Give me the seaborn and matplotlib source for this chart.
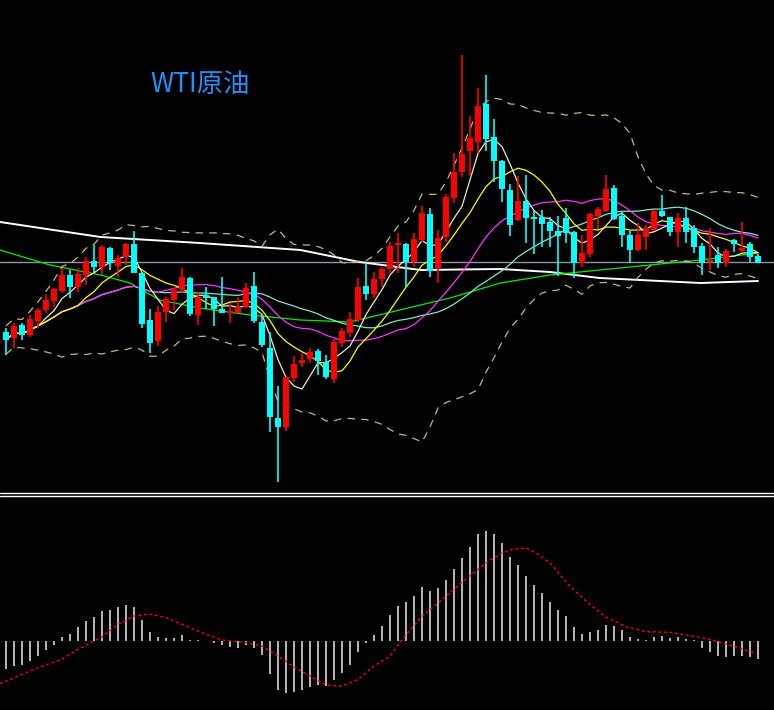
import numpy as np
import pandas as pd
import matplotlib
matplotlib.use("Agg")
import matplotlib.pyplot as plt
import seaborn as sns

# daily OHLC (price units)
opens = [26.8, 26.2, 27.5, 26.5, 27.9, 29.0, 29.9, 30.9, 32.5, 31.3, 32.5, 33.9, 33.3, 35.2, 33.4, 34.3,
         35.6, 32.7, 28.0, 25.9, 28.8, 30.0, 31.0, 32.2, 28.5, 30.5, 30.3, 29.1, 28.7, 28.7, 29.3, 31.4,
         27.8, 25.2, 18.2, 17.3, 22.2, 23.7, 24.1, 24.9, 23.8, 22.1, 25.7, 26.7, 28.0, 31.4, 30.6, 32.1,
         33.1, 35.5, 35.6, 33.8, 36.0, 38.6, 33.2, 36.3, 40.2, 42.8, 44.9, 45.8, 49.6, 46.3, 43.9, 41.0,
         38.0, 39.9, 38.2, 38.3, 37.8, 36.9, 38.2, 36.8, 33.7, 34.6, 38.4, 38.9, 41.2, 38.4, 36.5, 35.0,
         36.3, 37.0, 38.9, 38.3, 36.8, 38.2, 37.2, 35.4, 33.8, 34.5, 33.7, 36.0, 34.9, 35.6, 34.4]
closes = [26.0, 27.4, 26.5, 28.1, 29.0, 30.0, 31.1, 32.5, 31.3, 32.6, 33.9, 33.3, 35.3, 33.7, 34.2, 35.6,
          32.7, 27.6, 25.7, 28.8, 30.1, 31.0, 32.3, 28.6, 30.3, 30.2, 29.1, 28.7, 28.9, 29.3, 31.2, 27.9,
          25.5, 18.3, 17.3, 22.3, 23.6, 24.0, 24.8, 23.9, 22.3, 25.8, 26.9, 28.1, 31.3, 30.6, 32.1, 33.1,
          35.4, 35.7, 33.8, 36.1, 38.7, 32.9, 36.2, 40.3, 42.8, 44.6, 46.2, 49.4, 46.1, 43.9, 41.1, 37.5,
          39.9, 38.2, 38.1, 37.6, 36.9, 36.4, 36.7, 33.7, 34.7, 38.6, 39.1, 41.1, 38.1, 36.5, 35.0, 36.5,
          37.2, 38.9, 38.4, 36.8, 38.2, 36.8, 35.3, 33.7, 34.0, 33.7, 34.9, 35.6, 35.2, 34.3, 33.7]
highs = [27.2, 27.7, 27.7, 28.5, 29.2, 30.6, 31.2, 33.2, 33.0, 33.2, 34.3, 35.5, 35.5, 35.3, 34.5, 35.7,
         36.9, 32.8, 29.1, 29.4, 30.3, 31.2, 33.2, 32.3, 30.8, 31.3, 30.3, 32.3, 29.7, 30.3, 31.7, 32.8,
         28.5, 26.8, 21.4, 22.3, 24.4, 24.7, 25.2, 25.1, 24.5, 26.1, 27.2, 28.8, 32.2, 33.7, 32.8, 33.3,
         35.8, 36.7, 35.7, 36.7, 39.4, 39.2, 37.0, 40.6, 44.7, 54.5, 48.4, 51.2, 52.5, 48.1, 44.0, 41.6,
         42.4, 42.5, 39.0, 39.0, 38.3, 38.4, 39.2, 36.9, 36.5, 38.7, 39.3, 42.5, 41.5, 38.8, 36.9, 37.7,
         37.5, 39.0, 40.5, 38.3, 38.7, 39.3, 37.5, 35.7, 37.2, 35.3, 35.1, 36.1, 37.8, 35.8, 34.6]
lows = [24.5, 25.2, 26.0, 26.3, 27.2, 28.7, 29.3, 30.7, 30.2, 30.8, 31.5, 32.8, 32.5, 33.0, 32.3, 33.5,
        32.7, 27.2, 24.7, 25.4, 27.8, 29.0, 30.8, 28.4, 27.5, 29.1, 27.4, 28.7, 27.7, 28.7, 29.2, 27.7,
        25.3, 16.8, 11.8, 16.9, 21.8, 23.3, 23.7, 22.5, 22.1, 21.7, 25.3, 26.3, 27.8, 30.0, 30.2, 31.3,
        32.6, 32.7, 31.3, 33.3, 35.7, 32.3, 31.7, 35.8, 39.7, 42.3, 42.4, 44.7, 44.9, 41.8, 39.8, 36.4,
        37.9, 35.7, 34.6, 35.3, 35.3, 32.4, 35.7, 32.2, 33.3, 34.3, 37.1, 38.8, 38.0, 35.3, 33.7, 34.9,
        35.0, 36.9, 38.3, 36.4, 35.3, 35.7, 34.7, 32.5, 33.0, 33.2, 33.3, 34.8, 34.8, 33.8, 33.7]

# long moving averages, sampled by candle index
ma60_idx = [-0.75, 5.5, 11.8, 15.5, 19.2, 24.2, 30.5, 36.8, 43, 49.2, 55.5, 61.8, 68, 74.2, 80.5, 86.8, 94]
ma60_val = [35.0, 33.5, 32.5, 31.7, 30.0, 29.2, 28.5, 28.0, 27.8, 29.0, 30.2, 31.7, 32.5, 33.0, 33.5, 34.0, 34.7]
ma120_idx = [-0.75, 11.8, 24.2, 36.8, 44.2, 51.8, 61.8, 68, 74.2, 86.8, 94]
ma120_val = [37.8, 36.3, 35.7, 35.0, 33.8, 33.0, 33.1, 32.8, 32.2, 31.7, 31.9]
last_price = 33.8

# MACD histogram and signal line
macd_hist = [-83, -76, -73, -61, -46, -28, -11, 11, 22, 41, 59, 71, 89, 94, 101, 109,
             101, 64, 26, 11, 8, 8, 17, 2, 2, 0, -6, -13, -19, -22, -13, -22,
             -43, -100, -148, -156, -154, -148, -139, -133, -136, -118, -97, -73, -34, -7, 19, 46,
             79, 106, 118, 136, 163, 151, 160, 184, 217, 250, 283, 322, 331, 322, 295, 253,
             229, 196, 169, 145, 118, 94, 76, 43, 22, 28, 34, 49, 46, 34, 13, 7,
             4, 13, 16, 10, 13, 7, 2, -22, -34, -46, -49, -46, -46, -49, -55]
signal_idx = [-0.75, 2, 4, 7, 9, 12, 14, 16, 18, 20, 22, 25, 27, 30, 32, 34, 36, 38, 40, 42, 44, 46, 48,
              49.5, 52, 55, 57, 60, 62, 63.4, 65, 66.3, 68, 70.5, 73, 75, 77.6, 80, 83, 86, 88.4, 91, 93.8]
signal_val = [-128, -100, -80, -55, -25, 12, 50, 75, 81, 70, 50, 20, 3, -5, -15, -45, -78, -105, -132, -136,
              -115, -75, -46, 4, 74, 134, 176, 234, 264, 276, 279, 264, 234, 164, 109, 72, 42, 28, 26, 14,
              2, -16, -38]

df = pd.DataFrame({"open": opens, "close": closes, "high": highs, "low": lows})
df["idx"] = np.arange(len(df))
df["ma5"] = df["close"].rolling(5, min_periods=1).mean()
df["ma10"] = df["close"].rolling(10, min_periods=1).mean()
df["ma20"] = df["close"].rolling(20, min_periods=1).mean()
df["ma30"] = df["close"].rolling(30, min_periods=1).mean()
sd = df["close"].rolling(20, min_periods=3).std().bfill()
df["bb_up"] = df["ma20"] + 2 * sd
df["bb_dn"] = df["ma20"] - 2 * sd

sns.set_style("dark", {"axes.facecolor": "black", "figure.facecolor": "black"})
plt.rcParams['font.family'] = ['Noto Sans CJK SC', 'DejaVu Sans']

fig = plt.figure(figsize=(7.74, 7.10), dpi=100, facecolor="black")
ax = fig.add_axes([0, 220 / 710, 1, 490 / 710])
ax2 = fig.add_axes([0, 0, 1, 205 / 710])
for a in (ax, ax2):
    a.set_facecolor("black")
    a.set_axis_off()
    a.set_xlim(-0.75, 96.0)

ax.set_ylim(11, 60)
ax.axhline(last_price, color="#8c96aa", lw=1)

lw = 0.9
sns.lineplot(x=ma120_idx, y=ma120_val, ax=ax, color="white", lw=1.4)
sns.lineplot(x=ma60_idx, y=ma60_val, ax=ax, color="#00ee00", lw=lw)
sns.lineplot(data=df, x="idx", y="ma30", ax=ax, color="#7fe8c8", lw=lw)
sns.lineplot(data=df, x="idx", y="ma20", ax=ax, color="#ff33ff", lw=lw)
sns.lineplot(data=df, x="idx", y="ma10", ax=ax, color="#ffff00", lw=lw)
sns.lineplot(data=df, x="idx", y="ma5", ax=ax, color="#f0ecc0", lw=lw)
for col in ("bb_up", "bb_dn"):
    sns.lineplot(data=df, x="idx", y=col, ax=ax, color="#c8b878", lw=lw, linestyle=(0, (6, 5)))

up = df["close"] >= df["open"]
colors = np.where(up, "#ff0000", "#00ffff")
ax.vlines(df["idx"], df["low"], df["high"], colors=colors, lw=1.2, zorder=3)
body_lo = df[["open", "close"]].min(axis=1)
body_h = (df["close"] - df["open"]).abs().clip(lower=0.2)
ax.bar(df["idx"], body_h, bottom=body_lo, width=0.75, color=colors, zorder=4, linewidth=0)

ax.text(150 / 774, 1 - 84 / 490, "WTI原油", transform=ax.transAxes, color="#1e90ff",
        fontsize=19, va="center", ha="left")

# separator double line
fig.add_artist(plt.Line2D([0, 1], [1 - 493 / 710] * 2, color="white", lw=1))
fig.add_artist(plt.Line2D([0, 1], [1 - 496 / 710] * 2, color="white", lw=1))

ax2.set_ylim(-207, 408)
ax2.vlines(df["idx"], 0, macd_hist, colors="#d8d8d8", lw=1.2)
sns.lineplot(x=signal_idx, y=signal_val, ax=ax2, color="#ff0000", lw=1, linestyle=(0, (2, 2)))

fig.savefig("out.png", dpi=100, facecolor="black")
